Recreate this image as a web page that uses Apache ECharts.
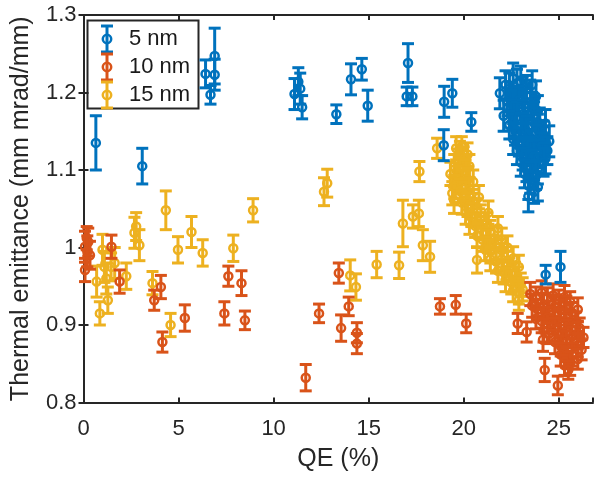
<!DOCTYPE html>
<html>
<head>
<meta charset="utf-8">
<script src="https://cdn.jsdelivr.net/npm/echarts@6/dist/echarts.min.js"></script>
<style>
  html, body { margin: 0; padding: 0; background: #fff; }
  #chart { width: 596px; height: 480px; }
</style>
</head>
<body>
<div id="chart"></div>
<script>
// [QE (%), thermal emittance (mm mrad/mm), error bar half height]
const nm5 = [
  [0.65, 1.135, 0.035], [3.09, 1.105, 0.023],
  [6.42, 1.224, 0.018], [6.9, 1.247, 0.036], [6.9, 1.223, 0.02], [6.68, 1.197, 0.012],
  [11.1, 1.198, 0.02], [11.3, 1.214, 0.018], [11.4, 1.205, 0.02], [11.5, 1.181, 0.015],
  [13.3, 1.172, 0.012], [14.07, 1.217, 0.02], [14.64, 1.23, 0.014], [14.95, 1.183, 0.02],
  [17.07, 1.238, 0.025], [17.0, 1.195, 0.012], [17.3, 1.195, 0.012],
  [18.97, 1.188, 0.02], [19.4, 1.199, 0.018], [20.4, 1.162, 0.012], [18.95, 1.132, 0.02],
  [24.31, 0.965, 0.012], [25.09, 0.975, 0.02],
  [21.9, 1.199, 0.02], [22.2, 1.21, 0.018], [22.4, 1.205, 0.02], [22.6, 1.218, 0.02], [22.8, 1.212, 0.018],
  [23.0, 1.214, 0.02], [23.3, 1.204, 0.018], [23.5, 1.196, 0.02], [22.5, 1.195, 0.018], [23.1, 1.2, 0.02],
  [23.6, 1.21, 0.018], [23.8, 1.195, 0.02], [22.7, 1.19, 0.018], [22.1, 1.17, 0.02], [24.3, 1.16, 0.018],
  [22.3, 1.188, 0.018], [22.6, 1.183, 0.02], [22.9, 1.19, 0.018], [23.2, 1.185, 0.02], [23.6, 1.182, 0.018],
  [23.9, 1.176, 0.02], [22.5, 1.172, 0.018], [22.8, 1.168, 0.02], [23.1, 1.172, 0.018], [23.4, 1.165, 0.02],
  [23.7, 1.17, 0.018], [24.0, 1.16, 0.02], [22.4, 1.158, 0.018], [22.7, 1.152, 0.02], [23.0, 1.155, 0.018],
  [23.3, 1.15, 0.02], [23.6, 1.148, 0.018], [23.9, 1.152, 0.02], [24.2, 1.145, 0.018], [22.6, 1.14, 0.02],
  [22.9, 1.136, 0.018], [23.2, 1.14, 0.02], [23.5, 1.133, 0.018], [23.8, 1.138, 0.02], [24.1, 1.13, 0.018],
  [24.5, 1.137, 0.02], [24.4, 1.125, 0.018], [22.8, 1.125, 0.018], [23.1, 1.12, 0.02], [23.4, 1.124, 0.018],
  [23.7, 1.118, 0.02], [24.0, 1.121, 0.018], [24.3, 1.115, 0.02], [23.0, 1.11, 0.018], [23.3, 1.105, 0.02],
  [23.6, 1.108, 0.018], [23.9, 1.102, 0.02], [24.2, 1.11, 0.018], [23.2, 1.095, 0.018], [23.5, 1.09, 0.02],
  [23.8, 1.093, 0.018], [23.4, 1.08, 0.018], [23.7, 1.072, 0.015], [23.4, 1.066, 0.02], [23.9, 1.078, 0.018]
];
const nm10 = [
  [0.08, 1.001, 0.02], [0.25, 1.007, 0.018], [0.17, 1.012, 0.015], [0.34, 0.99, 0.018], [0.08, 0.971, 0.015],
  [0.2, 0.995, 0.02], [1.47, 1.001, 0.015], [1.9, 0.956, 0.015], [3.72, 0.932, 0.013], [4.07, 0.949, 0.015],
  [4.15, 0.878, 0.013], [5.33, 0.909, 0.017], [7.62, 0.963, 0.013], [8.31, 0.954, 0.016], [7.41, 0.915, 0.015],
  [8.49, 0.906, 0.012], [11.69, 0.832, 0.017], [12.39, 0.915, 0.012], [13.43, 0.967, 0.013], [13.95, 0.924, 0.012],
  [13.55, 0.896, 0.017], [14.38, 0.89, 0.013], [14.38, 0.876, 0.013], [18.75, 0.924, 0.01], [19.58, 0.926, 0.012],
  [20.13, 0.902, 0.012], [22.84, 0.902, 0.013], [23.31, 0.891, 0.013], [24.17, 0.881, 0.015], [24.26, 0.842, 0.015],
  [24.95, 0.822, 0.012], [25.21, 0.872, 0.013],
  [23.5, 0.94, 0.015], [23.8, 0.936, 0.013], [24.1, 0.942, 0.015], [24.4, 0.935, 0.013], [24.7, 0.938, 0.015],
  [25.0, 0.932, 0.013], [25.3, 0.936, 0.015], [25.6, 0.93, 0.013], [23.6, 0.925, 0.015], [23.9, 0.92, 0.013],
  [24.2, 0.926, 0.015], [24.5, 0.918, 0.013], [24.8, 0.924, 0.015], [25.1, 0.919, 0.013], [25.4, 0.922, 0.015],
  [25.7, 0.916, 0.013], [26.0, 0.92, 0.015], [23.8, 0.908, 0.013], [24.1, 0.905, 0.015], [24.4, 0.91, 0.013],
  [24.7, 0.903, 0.015], [25.0, 0.907, 0.013], [25.3, 0.9, 0.015], [25.6, 0.905, 0.013], [25.9, 0.902, 0.015],
  [26.1, 0.896, 0.013], [24.2, 0.893, 0.015], [24.5, 0.889, 0.013], [24.8, 0.894, 0.015], [25.1, 0.887, 0.013],
  [25.4, 0.891, 0.015], [25.7, 0.885, 0.013], [26.0, 0.889, 0.015], [26.3, 0.884, 0.013], [24.8, 0.878, 0.015],
  [25.1, 0.873, 0.013], [25.4, 0.877, 0.015], [25.7, 0.87, 0.013], [26.0, 0.874, 0.015], [26.2, 0.868, 0.013],
  [25.1, 0.862, 0.015], [25.4, 0.858, 0.013], [25.7, 0.862, 0.015], [26.0, 0.856, 0.013], [25.3, 0.848, 0.013],
  [25.6, 0.85, 0.015], [25.5, 0.842, 0.012]
];
const nm15 = [
  [1.0, 0.997, 0.02], [0.69, 0.956, 0.02], [0.86, 0.915, 0.015], [1.28, 0.932, 0.017], [1.1, 0.975, 0.02],
  [1.2, 0.96, 0.02], [1.45, 0.975, 0.018], [1.64, 0.98, 0.02], [2.25, 0.963, 0.017], [2.68, 1.019, 0.02],
  [2.77, 1.027, 0.018], [2.94, 1.003, 0.02], [3.63, 0.954, 0.015], [4.33, 1.048, 0.025], [4.58, 0.9, 0.015],
  [4.97, 0.997, 0.017], [5.68, 1.02, 0.02], [6.27, 0.993, 0.017], [7.88, 0.999, 0.017], [8.92, 1.048, 0.015],
  [12.82, 1.083, 0.018], [12.65, 1.072, 0.018], [14.03, 0.964, 0.02], [14.33, 0.949, 0.017], [15.42, 0.978, 0.017],
  [16.6, 0.977, 0.017], [16.8, 1.031, 0.03], [17.33, 1.04, 0.015], [17.64, 1.044, 0.017], [17.67, 1.098, 0.013],
  [17.85, 1.003, 0.02], [18.23, 0.988, 0.02], [18.6, 1.128, 0.013], [19.49, 1.061, 0.017], [20.7, 0.984, 0.017],
  [19.6, 1.128, 0.015], [19.8, 1.122, 0.015], [19.9, 1.13, 0.013], [19.7, 1.112, 0.015], [20.0, 1.115, 0.015],
  [20.2, 1.12, 0.015], [20.3, 1.105, 0.015], [19.3, 1.095, 0.015], [19.4, 1.07, 0.015], [20.5, 1.085, 0.015],
  [20.8, 1.065, 0.015], [21.3, 1.045, 0.015], [21.8, 1.025, 0.015], [22.0, 1.01, 0.015], [22.3, 1.0, 0.015],
  [19.5, 1.105, 0.015], [19.8, 1.1, 0.015], [20.1, 1.098, 0.015], [19.6, 1.09, 0.015], [19.9, 1.085, 0.015],
  [20.2, 1.088, 0.015], [19.5, 1.078, 0.015], [19.8, 1.073, 0.015], [20.1, 1.07, 0.015], [20.3, 1.075, 0.015],
  [19.9, 1.058, 0.015], [20.2, 1.055, 0.015], [20.5, 1.06, 0.015], [20.1, 1.045, 0.015], [20.4, 1.042, 0.015],
  [20.7, 1.048, 0.015], [20.9, 1.04, 0.015], [20.3, 1.032, 0.015], [20.6, 1.028, 0.015], [20.9, 1.025, 0.015],
  [21.2, 1.03, 0.015], [21.4, 1.02, 0.015], [20.7, 1.015, 0.015], [21.0, 1.01, 0.015], [21.3, 1.008, 0.015],
  [21.6, 1.012, 0.015], [21.1, 0.998, 0.015], [21.4, 0.995, 0.015], [21.7, 1.0, 0.015], [22.0, 0.996, 0.015],
  [21.4, 0.985, 0.015], [21.7, 0.982, 0.015], [22.0, 0.985, 0.015], [22.3, 0.98, 0.015], [22.6, 0.986, 0.015],
  [21.8, 0.97, 0.015], [22.1, 0.968, 0.015], [22.4, 0.972, 0.015], [22.7, 0.966, 0.015], [22.9, 0.975, 0.015],
  [22.2, 0.958, 0.015], [22.5, 0.955, 0.015], [22.8, 0.96, 0.015], [23.0, 0.952, 0.015], [22.6, 0.945, 0.015],
  [22.9, 0.942, 0.015], [23.1, 0.946, 0.015], [22.9, 0.932, 0.013]
];
const seriesNames = ['5 nm', '10 nm', '15 nm'];
const seriesColors = ['#0072BD', '#D95319', '#EDB120'];
const xTicks = [0, 5, 10, 15, 20, 25];
const yTicks = [0.8, 0.9, 1.0, 1.1, 1.2, 1.3];

const axisColor = '#262626';
const font = 'Liberation Sans, Arial, Helvetica, sans-serif';

function errorBar(color) {
  return function (params, api) {
    const x = api.value(0), y = api.value(1), e = api.value(2);
    const c = api.coord([x, y]);
    const top = api.coord([x, y + e])[1];
    const bot = api.coord([x, y - e])[1];
    const w = 6;
    const st = { stroke: color, lineWidth: 3, fill: null };
    return {
      type: 'group',
      children: [
        { type: 'line', shape: { x1: c[0], y1: top, x2: c[0], y2: bot }, style: st },
        { type: 'line', shape: { x1: c[0] - w, y1: top, x2: c[0] + w, y2: top }, style: st },
        { type: 'line', shape: { x1: c[0] - w, y1: bot, x2: c[0] + w, y2: bot }, style: st },
        { type: 'circle', shape: { cx: c[0], cy: c[1], r: 4 }, style: { stroke: color, lineWidth: 2.5, fill: null } }
      ]
    };
  };
}

const data = [nm5, nm10, nm15];
const zs = [4, 3, 2];
const series = data.map((d, i) => ({
  name: seriesNames[i],
  type: 'custom',
  coordinateSystem: 'cartesian2d',
  renderItem: errorBar(seriesColors[i]),
  data: d,
  z: zs[i],
  silent: true,
  animation: false
}));

// legend drawn as graphic (error bar icon + label)
const legendItems = seriesNames.map((name, i) => {
  const cy = 39 + i * 28;
  const cx = 107;
  const st = { stroke: seriesColors[i], lineWidth: 3, fill: null };
  return {
    type: 'group',
    children: [
      { type: 'line', shape: { x1: cx, y1: cy - 13, x2: cx, y2: cy + 13 }, style: st },
      { type: 'line', shape: { x1: cx - 6, y1: cy - 13, x2: cx + 6, y2: cy - 13 }, style: st },
      { type: 'line', shape: { x1: cx - 6, y1: cy + 13, x2: cx + 6, y2: cy + 13 }, style: st },
      { type: 'circle', shape: { cx: cx, cy: cy, r: 4.2 }, style: { stroke: seriesColors[i], lineWidth: 2.5, fill: null } },
      { type: 'text', x: 129, y: cy, style: { text: name, fill: '#1a1a1a', font: '22px ' + font, verticalAlign: 'middle' } }
    ]
  };
});

const chart = echarts.init(document.getElementById('chart'));
chart.setOption({
  animation: false,
  backgroundColor: '#fff',
  grid: { left: 83.5, right: -1, top: 15, bottom: 77.5 },
  xAxis: [{
    type: 'value', min: 0, max: 26.8, interval: 5, position: 'bottom',
    name: 'QE (%)', nameLocation: 'middle', nameGap: 44,
    nameTextStyle: { fontSize: 25, color: axisColor, fontFamily: font },
    axisLine: { lineStyle: { color: axisColor, width: 2 } },
    axisTick: { inside: true, length: 5, lineStyle: { color: axisColor, width: 2 } },
    axisLabel: { fontSize: 22, color: axisColor, fontFamily: font, margin: 15,
      formatter: v => xTicks.includes(v) ? String(v) : '' },
    splitLine: { show: false }
  }, {
    type: 'value', min: 0, max: 26.8, interval: 5, position: 'top',
    axisLine: { lineStyle: { color: axisColor, width: 2 } },
    axisTick: { inside: true, length: 5, lineStyle: { color: axisColor, width: 2 } },
    axisLabel: { show: false }, splitLine: { show: false }
  }],
  yAxis: [{
    type: 'value', min: 0.8, max: 1.3, interval: 0.1, position: 'left',
    name: 'Thermal emittance (mm mrad/mm)', nameLocation: 'middle', nameGap: 50,
    nameTextStyle: { fontSize: 25, color: axisColor, fontFamily: font },
    axisLine: { lineStyle: { color: axisColor, width: 2 } },
    axisTick: { inside: true, length: 5, lineStyle: { color: axisColor, width: 2 } },
    axisLabel: { fontSize: 22, color: axisColor, fontFamily: font, margin: 7,
      formatter: v => {
        const t = yTicks.find(k => Math.abs(k - v) < 1e-6);
        return t === undefined ? '' : String(Math.round(t * 10) / 10);
      } },
    splitLine: { show: false }
  }, {
    type: 'value', min: 0.8, max: 1.3, interval: 0.1, position: 'right',
    axisLine: { lineStyle: { color: axisColor, width: 2 } },
    axisTick: { inside: true, length: 5, lineStyle: { color: axisColor, width: 2 } },
    axisLabel: { show: false }, splitLine: { show: false }
  }],
  series: series,
  graphic: [{
    type: 'group', z: 100,
    children: [
      { type: 'rect', shape: { x: 87.5, y: 20.5, width: 111, height: 88 },
        style: { fill: '#fff', stroke: axisColor, lineWidth: 2 } }
    ].concat(legendItems)
  }]
});
</script>
</body>
</html>
